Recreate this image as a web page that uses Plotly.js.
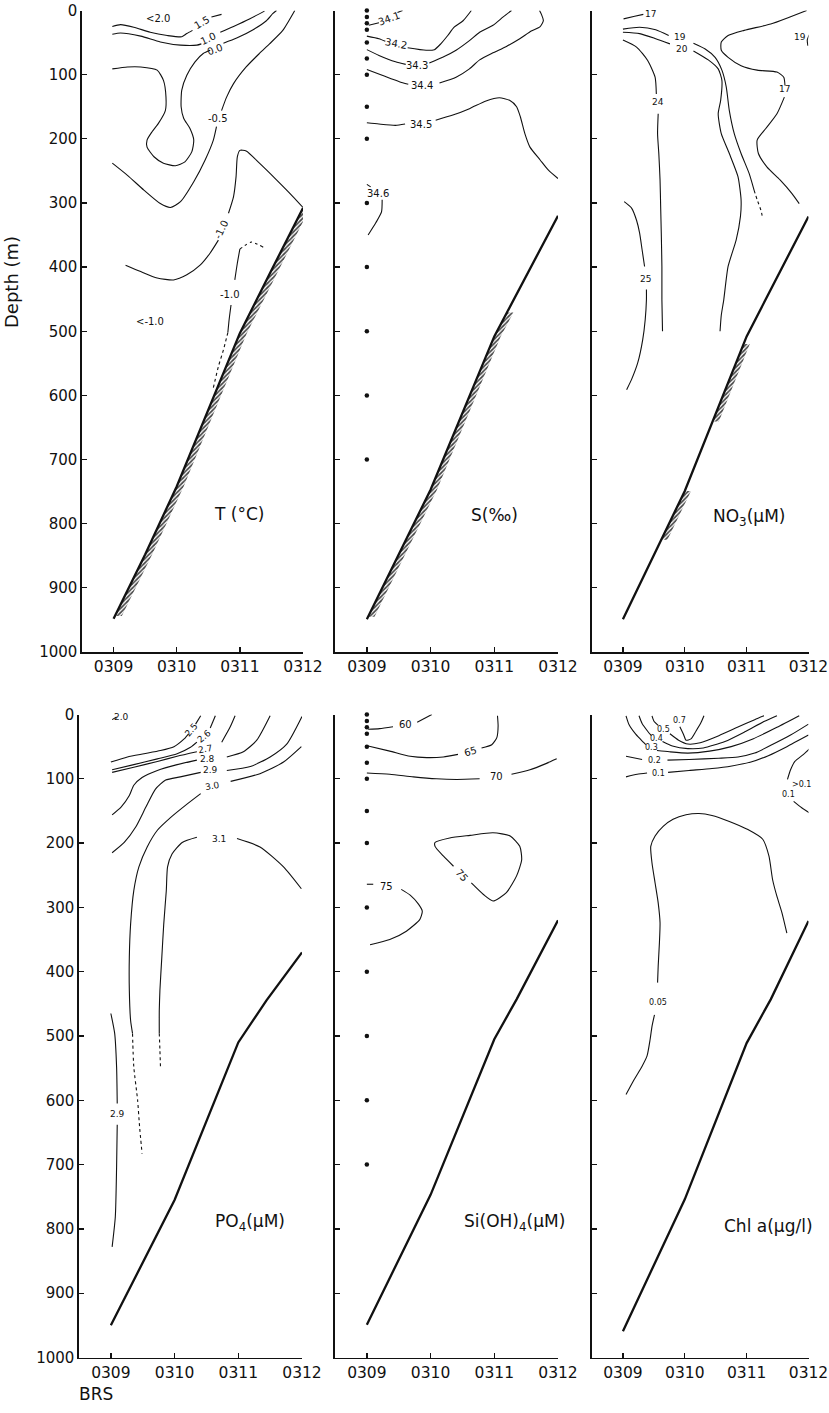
<!DOCTYPE html>
<html><head><meta charset="utf-8">
<script src="https://cdn.plot.ly/plotly-3.0.1.min.js"></script>
<style>html,body{margin:0;padding:0;background:#fff}#chart{width:829px;height:1413px}</style>
</head><body><div id="chart"></div>
<script>
// ---------- shared data ----------
const STATIONS = ['0309','0310','0311','0312'];
const STATION_POS = [0,1,2,3];
const DEPTH_TICKS = [0,100,200,300,400,500,600,700,800,900,1000];
const SAMPLE_DEPTHS = [0,10,20,30,50,75,100,150,200,300,400,500,600,700];

// ---------- T (°C) ----------
const T_FLOOR_X = [0,0.5,1,1.5,2,2.5,3];
const T_FLOOR_D = [948,848,742,622,503,405,308];
const T_15_X = [-0.02,0.11,0.32,0.58,0.85,1.08,1.16,1.25,null,1.55,1.71];
const T_15_D = [25,22,26,34,39,41,36,31,null,10,6];
const T_10_X = [-0.02,0.11,0.43,0.74,1.06,1.32,1.39,null,1.69,1.90,2.16,2.39];
const T_10_D = [37,35,40,49,54,54,52,null,34,25,13,1];
const T_00_X = [-0.02,0.22,0.43,0.69,0.79,0.83,0.82,0.71,0.61,0.53,0.53,0.64,0.79,0.98,1.13,1.24,1.27,1.21,1.11,1.07,1.08,1.16,1.29,1.42,1.53,null,1.74,1.95,2.21,2.42,2.52,2.58];
const T_00_D = [91,88,88,93,109,135,156,176,189,202,213,228,238,242,236,220,202,184,168,150,124,101,80,67,62,null,51,43,30,16,5,0];
const T_M05_X = [-0.02,0.22,0.48,0.74,0.90,1.06,1.27,1.45,1.58,1.63,null,1.71,1.79,1.90,2.10,2.31,2.47,2.68,2.87];
const T_M05_D = [238,257,280,301,307,298,267,233,202,181,null,156,135,114,88,67,52,31,0];
const T_M10_X = [0.19,0.43,0.69,0.95,1.16,1.37,1.53,1.66,null,1.82,1.90,1.94,1.96,2.00,2.10,2.31,2.58,2.84,3.00];
const T_M10_D = [397,407,417,420,412,397,378,358,null,316,290,259,228,218,219,238,264,290,307];
const T_M10B_X = [2.00,1.96,1.92,null,1.86,1.83,1.81];
const T_M10B_D = [372,394,420,null,459,482,502];
const T_M10B_DOT1_X = [2.37,2.18,2.00];
const T_M10B_DOT1_D = [369,361,372];
const T_M10B_DOT2_X = [1.81,1.74,1.66,1.58];
const T_M10B_DOT2_D = [502,529,555,588];
const T_LAB_TEXT = ['<2.0','1.5','1.0','0.0','-0.5','-1.0','-1.0','<-1.0'];
const T_LAB_X = [0.71,1.40,1.50,1.61,1.66,1.71,1.84,0.58];
const T_LAB_D = [13,19,43,61,168,342,442,485];
const T_LAB_ANG = [0,-30,-25,-20,0,-65,0,0];

// ---------- S (‰) ----------
const S_FLOOR_X = [0,1,2,2.5,3];
const S_FLOOR_D = [949,747,508,415,320];
const S_341_X = [0.03,0.19,null,0.48,0.56];
const S_341_D = [23,19,null,3,0];
const S_342_X = [0,0.19,0.29,null,0.64,0.93,1.06,1.16,1.27,1.37,1.51,1.64];
const S_342_D = [40,44,48,null,58,62,61,52,39,26,16,0];
const S_343_X = [0,0.19,0.45,0.61,null,0.98,1.19,1.40,1.61,1.77,1.98,2.14,2.27];
const S_343_D = [61,70,80,84,null,82,73,62,47,34,23,10,0];
const S_344_X = [0,0.24,0.51,0.65,null,1.14,1.40,1.61,1.77,1.98,2.19,2.40,2.58,2.72,2.77,2.74,2.71];
const S_344_D = [92,101,111,115,null,113,104,91,77,66,56,44,32,25,16,6,0];
const S_345_X = [0,0.19,0.45,0.60,null,1.08,1.35,1.61,1.87,2.08,2.24,2.35,2.41,2.48,2.56,2.72,2.85,3.0];
const S_345_D = [175,177,179,177,null,171,163,153,141,136,140,150,166,192,213,233,249,262];
const S_346_X = [0,0.06,null,0.24,0.23,0.14,0.02];
const S_346_D = [271,275,null,295,314,331,350];
const S_LAB_TEXT = ['34.1','34.2','34.3','34.4','34.5','34.6'];
const S_LAB_X = [0.35,0.45,0.79,0.87,0.85,0.17];
const S_LAB_D = [13,52,86,117,177,286];
const S_LAB_ANG = [-20,10,0,0,0,0];

// ---------- NO3 (µM) ----------
const N_FLOOR_X = [0,1,2,2.5,3];
const N_FLOOR_D = [949,749,508,415,321];
const N_17A_X = [0.01,0.19,0.33];
const N_17A_D = [13,9,6];
const N_19_X = [0,0.27,0.53,0.74,null,1.14,1.33,1.49,1.60,1.67,1.72,1.80,1.91,2.04,2.12];
const N_19_D = [29,26,30,39,null,51,60,73,93,119,156,192,223,254,280];
const N_19_DOT_X = [2.12,2.17,2.23,2.26];
const N_19_DOT_D = [280,295,311,324];
const N_20_X = [0,0.27,0.53,0.76,null,1.14,1.38,1.54,1.60,1.58,1.54,1.59,1.72,1.86,1.91,1.90,1.83,1.70,1.63,1.59,1.57];
const N_20_D = [34,36,44,52,null,63,77,91,109,140,161,192,223,259,295,321,358,399,451,475,500];
const N_24_X = [0,0.22,0.40,0.52,0.54,null,0.57,0.56,0.58,0.60,0.61,0.62,0.63,0.63,0.64];
const N_24_D = [46,57,78,104,130,null,161,192,223,264,306,347,399,451,500];
const N_25_X = [0.02,0.14,0.22,0.27,0.31,0.35,null,0.38,0.38,0.36,0.32,0.24,0.14,0.06];
const N_25_D = [298,308,327,347,373,399,null,435,451,482,513,549,575,591];
const N_17B_X = [2.97,2.70,2.39,1.96,1.70,1.59,1.59,1.70,1.91,2.17,2.49,2.60,2.62,null,2.61,2.49,2.31,2.17,2.19,2.33,2.54,2.73,2.85];
const N_17B_D = [0,10,21,31,39,49,62,73,86,93,96,104,117,null,135,161,184,202,223,244,264,285,301];
const N_19C_X = [3.01,2.98,2.99];
const N_19C_D = [38,46,55];
const N_LAB_TEXT = ['17','19','20','24','25','17','19'];
const N_LAB_X = [0.44,0.93,0.95,0.57,0.36,2.62,2.86];
const N_LAB_D = [5,41,60,143,419,123,42];

// ---------- PO4 (µM) ----------
const P_FLOOR_X = [0,1,2,2.44,3];
const P_FLOOR_D = [950,755,510,445,370];
const P_20_X = [0.02,0.09];
const P_20_D = [8,4];
const P_25_X = [0,0.26,0.52,0.78,0.99,1.15,1.22,null,1.33,1.41];
const P_25_D = [74,66,61,56,50,38,30,null,15,2];
const P_26_X = [0.02,0.36,0.73,1.04,1.25,1.35,null,1.56,1.64];
const P_26_D = [86,78,69,61,51,43,null,21,2];
const P_27_X = [0.02,0.36,0.73,1.04,1.35,null,1.74,1.87,1.95];
const P_27_D = [90,82,73,65,58,null,43,20,2];
const P_28_X = [0.02,0.16,0.29,0.36,0.49,0.73,1.04,1.35,null,1.82,2.08,2.29,2.50];
const P_28_D = [156,144,126,110,98,87,78,71,null,66,58,40,2];
const P_29_X = [0.02,0.21,0.39,0.55,0.70,0.86,1.09,1.41,null,1.82,2.19,2.50,2.76,3.0];
const P_29_D = [215,199,175,144,116,102,97,90,null,87,81,66,46,3];
const P_30_X = [0.34,0.31,0.29,0.29,0.31,0.36,0.44,0.57,0.73,0.94,1.20,1.41,null,1.88,2.34,2.71,2.99];
const P_30_D = [496,476,429,377,326,274,237,206,180,160,139,123,null,104,92,74,50];
const P_30_DOT_X = [0.34,0.36,0.42,0.45,0.49];
const P_30_DOT_D = [496,548,600,640,683];
const P_31_X = [0.76,0.76,0.77,0.80,0.83,0.87,0.89,0.96,1.12,1.35,null,1.98,2.34,2.71,2.99];
const P_31_D = [496,460,429,377,326,274,237,217,199,191,null,193,206,237,271];
const P_31_DOT_X = [0.76,0.77,0.78];
const P_31_DOT_D = [496,522,552];
const P_29B_X = [0,0.06,0.09,0.10,null,0.10,0.09,0.07,0.02];
const P_29B_D = [465,496,548,605,null,638,704,781,828];
const P_LAB_TEXT = ['2.0','2.5','2.6','2.7','2.8','2.9','3.0','3.1','2.9'];
const P_LAB_X = [0.17,1.26,1.47,1.48,1.51,1.56,1.59,1.69,0.10];
const P_LAB_D = [4,24,34,53,69,87,111,193,621];
const P_LAB_ANG = [0,-50,-40,-10,0,0,-10,0,0];

// ---------- Si(OH)4 (µM) ----------
const SI_FLOOR_X = [0,1,2,2.35,3];
const SI_FLOOR_D = [949,747,505,443,320];
const SI_60_X = [0.02,0.20,0.41,null,0.79,1.02];
const SI_60_D = [23,22,19,null,12,0];
const SI_65_X = [0.02,0.36,0.68,0.94,1.20,1.43,null,1.80,1.96,2.04,2.06,2.05];
const SI_65_D = [49,57,65,67,66,62,null,52,47,36,18,2];
const SI_70_X = [0,0.36,0.73,1.09,1.41,1.77,null,2.27,2.56,2.82,2.98];
const SI_70_D = [91,93,97,100,101,100,null,93,86,76,69];
const SI_75A_X = [1.64,1.83,1.98,2.19,2.35,2.43,2.40,2.25,1.98,1.62,1.30,1.07,1.07,1.20,1.36];
const SI_75A_D = [262,280,290,277,251,226,205,189,184,188,192,199,205,220,236];
const SI_75B_X = [0,0.10,null,0.54,0.68,0.81,0.87,0.83,0.62,0.36,0.05];
const SI_75B_D = [264,264,null,272,281,295,306,319,337,350,358];
const SI_LAB_TEXT = ['60','65','70','75','75'];
const SI_LAB_X = [0.61,1.62,2.04,1.49,0.31];
const SI_LAB_D = [16,57,97,251,268];
const SI_LAB_ANG = [0,-15,0,50,0];

// ---------- Chl a (µg/l) ----------
const C_FLOOR_X = [0,1,2,2.39,3];
const C_FLOOR_D = [959,754,511,443,321];
const C_07_X = [0.92,0.98,1.02,1.10,1.18,1.26,1.31];
const C_07_D = [19,31,40,38,26,13,2];
const C_05_X = [0.47,0.50,0.57,null,0.76,0.90,1.05,1.25,1.55,1.85,2.13,2.28];
const C_05_D = [2,10,17,null,30,40,46,44,33,20,8,2];
const C_04_X = [0.26,0.31,0.40,0.46,null,0.64,0.80,1.05,1.30,1.65,1.97,2.28,2.49];
const C_04_D = [2,14,26,33,null,42,49,53,52,42,27,11,2];
const C_03_X = [0.05,0.10,0.21,0.33,0.37,null,0.55,0.75,1.05,1.40,1.75,2.10,2.49,2.85];
const C_03_D = [2,16,31,43,47,null,56,58,60,57,50,38,20,2];
const C_02_X = [0.05,0.31,null,0.72,1.07,1.55,1.86,2.13,2.39,2.71,3.0];
const C_02_D = [65,70,null,71,70,68,66,60,48,32,15];
const C_01_X = [0.05,0.23,0.39,null,0.73,1.07,1.44,1.76,2.07,2.35,2.65,3.0];
const C_01_D = [97,93,91,null,90,87,84,80,74,64,50,32];
const C_01B_X = [3.03,2.92,2.78,2.71,2.66,null,2.76,2.89,3.03];
const C_01B_D = [52,62,73,86,101,null,135,145,154];
const C_005_X = [2.65,2.57,2.49,2.42,2.36,2.26,2.02,1.71,1.44,1.23,1.02,0.81,0.65,0.52,0.45,0.47,0.52,0.57,0.60,0.59,0.57,0.56,null,0.51,0.47,0.44,0.39,0.31,0.18,0.05];
const C_005_D = [340,308,283,257,220,194,179,166,157,154,156,163,174,189,205,231,262,293,324,355,391,417,null,467,485,505,531,547,568,591];
const C_LAB_TEXT = ['0.7','0.5','0.4','0.3','0.2','0.1','>0.1','0.1','0.05'];
const C_LAB_X = [0.92,0.66,0.55,0.46,0.51,0.57,2.88,2.68,0.57];
const C_LAB_D = [10,23,37,51,72,91,109,124,448];

// ---------- build ----------
const INK = '#111';
const traces = [];
const annotations = [];
function ln(ax, x, y, opts) {
  opts = opts || {};
  traces.push({type:'scatter', mode:'lines', x:x, y:y, xaxis:'x'+ax, yaxis:'y'+ax,
    line:{color:INK, width:opts.w || 1.1, dash:opts.dash || 'solid', shape:'spline', smoothing:0.6},
    connectgaps:false, hoverinfo:'skip', showlegend:false});
}
function interp(xs, ds, s) {
  for (let i = 0; i < xs.length - 1; i++) {
    if (s >= xs[i] && s <= xs[i+1]) {
      const t = (s - xs[i]) / (xs[i+1] - xs[i]);
      return ds[i] + t * (ds[i+1] - ds[i]);
    }
  }
  return s < xs[0] ? ds[0] : ds[ds.length-1];
}
function hatch(ax, fx, fd, a, b, off) {
  const xs = [a], ds = [interp(fx, fd, a)];
  fx.forEach((v, i) => { if (v > a && v < b) { xs.push(v); ds.push(fd[i]); } });
  xs.push(b); ds.push(interp(fx, fd, b));
  const px = xs.concat(xs.slice().reverse().map(v => v + off));
  const pd = ds.concat(ds.slice().reverse());
  px.push(px[0]); pd.push(pd[0]);
  traces.push({type:'scatter', mode:'lines', x:px, y:pd, xaxis:'x'+ax, yaxis:'y'+ax,
    fill:'toself', fillcolor:'rgba(255,255,255,0)',
    fillpattern:{shape:'/', size:3, solidity:0.55, fgcolor:'#444', bgcolor:'rgba(255,255,255,0)'},
    line:{width:0, color:'rgba(0,0,0,0)'}, hoverinfo:'skip', showlegend:false});
}
function floor(ax, fx, fd) {
  traces.push({type:'scatter', mode:'lines', x:fx, y:fd, xaxis:'x'+ax, yaxis:'y'+ax,
    line:{color:INK, width:2.3}, hoverinfo:'skip', showlegend:false});
}
function labels(ax, texts, xs, ds, angs, size) {
  texts.forEach((t, i) => annotations.push({xref:'x'+ax, yref:'y'+ax, x:xs[i], y:ds[i], text:t,
    showarrow:false, xanchor:'center', yanchor:'middle', borderpad:0, textangle: angs ? angs[i] : 0,
    font:{family:'DejaVu Sans', size:size || 10, color:INK}}));
}
function dots(ax) {
  traces.push({type:'scatter', mode:'markers', x:SAMPLE_DEPTHS.map(() => STATION_POS[0]), y:SAMPLE_DEPTHS,
    xaxis:'x'+ax, yaxis:'y'+ax, marker:{color:INK, size:4.5}, hoverinfo:'skip', showlegend:false, cliponaxis:false});
}
function panelTitle(ax, text, s, d) {
  annotations.push({xref:'x'+ax, yref:'y'+ax, x:s, y:d, text:text, showarrow:false,
    xanchor:'center', yanchor:'middle', font:{family:'DejaVu Sans', size:17, color:INK}});
}

// Panel 1: T
hatch('', T_FLOOR_X, T_FLOOR_D, 0.02, 3.0, 0.11);
floor('', T_FLOOR_X, T_FLOOR_D);
ln('', T_15_X, T_15_D); ln('', T_10_X, T_10_D); ln('', T_00_X, T_00_D);
ln('', T_M05_X, T_M05_D); ln('', T_M10_X, T_M10_D); ln('', T_M10B_X, T_M10B_D);
ln('', T_M10B_DOT1_X, T_M10B_DOT1_D, {dash:'dot'}); ln('', T_M10B_DOT2_X, T_M10B_DOT2_D, {dash:'dot'});
labels('', T_LAB_TEXT, T_LAB_X, T_LAB_D, T_LAB_ANG);
panelTitle('', 'T (°C)', 1.98, 785);

// Panel 2: S
hatch('2', S_FLOOR_X, S_FLOOR_D, 0.02, 2.2, 0.1);
floor('2', S_FLOOR_X, S_FLOOR_D);
[[S_341_X,S_341_D],[S_342_X,S_342_D],[S_343_X,S_343_D],[S_344_X,S_344_D],[S_345_X,S_345_D],[S_346_X,S_346_D]]
  .forEach(p => ln('2', p[0], p[1]));
dots('2');
labels('2', S_LAB_TEXT, S_LAB_X, S_LAB_D, S_LAB_ANG);
panelTitle('2', 'S(‰)', 2.0, 787);

// Panel 3: NO3
hatch('3', N_FLOOR_X, N_FLOOR_D, 0.62, 1.0, 0.1);
hatch('3', N_FLOOR_X, N_FLOOR_D, 1.45, 1.95, 0.1);
floor('3', N_FLOOR_X, N_FLOOR_D);
[[N_17A_X,N_17A_D],[N_19_X,N_19_D],[N_20_X,N_20_D],[N_24_X,N_24_D],[N_25_X,N_25_D],[N_17B_X,N_17B_D],[N_19C_X,N_19C_D]]
  .forEach(p => ln('3', p[0], p[1]));
ln('3', N_19_DOT_X, N_19_DOT_D, {dash:'dot'});
labels('3', N_LAB_TEXT, N_LAB_X, N_LAB_D, null, 9);
panelTitle('3', 'NO<sub>3</sub>(µM)', 2.04, 790);

// Panel 4: PO4
floor('4', P_FLOOR_X, P_FLOOR_D);
[[P_20_X,P_20_D],[P_25_X,P_25_D],[P_26_X,P_26_D],[P_27_X,P_27_D],[P_28_X,P_28_D],[P_29_X,P_29_D],[P_30_X,P_30_D],[P_31_X,P_31_D],[P_29B_X,P_29B_D]]
  .forEach(p => ln('4', p[0], p[1]));
ln('4', P_30_DOT_X, P_30_DOT_D, {dash:'dot'}); ln('4', P_31_DOT_X, P_31_DOT_D, {dash:'dot'});
labels('4', P_LAB_TEXT, P_LAB_X, P_LAB_D, P_LAB_ANG, 9);
panelTitle('4', 'PO<sub>4</sub>(µM)', 2.19, 790);

// Panel 5: Si
floor('5', SI_FLOOR_X, SI_FLOOR_D);
[[SI_60_X,SI_60_D],[SI_65_X,SI_65_D],[SI_70_X,SI_70_D],[SI_75A_X,SI_75A_D],[SI_75B_X,SI_75B_D]]
  .forEach(p => ln('5', p[0], p[1]));
dots('5');
labels('5', SI_LAB_TEXT, SI_LAB_X, SI_LAB_D, SI_LAB_ANG);
panelTitle('5', 'Si(OH)<sub>4</sub>(µM)', 2.31, 790);

// Panel 6: Chl a
floor('6', C_FLOOR_X, C_FLOOR_D);
[[C_07_X,C_07_D],[C_05_X,C_05_D],[C_04_X,C_04_D],[C_03_X,C_03_D],[C_02_X,C_02_D],[C_01_X,C_01_D],[C_01B_X,C_01B_D],[C_005_X,C_005_D]]
  .forEach(p => ln('6', p[0], p[1]));
labels('6', C_LAB_TEXT, C_LAB_X, C_LAB_D, null, 8);
panelTitle('6', 'Chl a(µg/l)', 2.35, 795);

// Axis titles
annotations.push({xref:'paper', yref:'paper', x:12/829, y:1-282/1413, text:'Depth (m)', textangle:-90,
  xanchor:'center', yanchor:'middle', showarrow:false, font:{family:'DejaVu Sans', size:18, color:INK}});
annotations.push({xref:'paper', yref:'paper', x:96/829, y:1-1394/1413, text:'BRS',
  xanchor:'center', yanchor:'middle', showarrow:false, font:{family:'DejaVu Sans', size:17, color:INK}});

const W = 829, H = 1413;
function xax(l, r, anchor) {
  return {domain:[l/W, r/W], range:[-0.5, 3.0], anchor:anchor, tickvals:STATION_POS, ticktext:STATIONS,
    ticks:'inside', ticklen:5, tickwidth:1.3, tickcolor:INK, showline:true, linecolor:INK, linewidth:1.6,
    showgrid:false, zeroline:false, ticklabeloverflow:'allow',
    tickfont:{family:'DejaVu Sans', size:15.5, color:INK}, fixedrange:true};
}
function yax(top, bot, anchor, showLabels) {
  return {domain:[1-bot/H, 1-top/H], range:[1000, 0], anchor:anchor, tickvals:DEPTH_TICKS,
    ticks:'inside', ticklen:5, tickwidth:1.3, tickcolor:INK, showline:true, linecolor:INK, linewidth:1.6,
    showgrid:false, zeroline:false, showticklabels:showLabels, ticklabeloverflow:'allow',
    tickfont:{family:'DejaVu Sans', size:15, color:INK}, fixedrange:true};
}
const layout = {
  width:W, height:H, margin:{l:0, r:0, t:0, b:0}, paper_bgcolor:'#fff', plot_bgcolor:'rgba(0,0,0,0)',
  showlegend:false,
  xaxis: xax(82, 303, 'y'),   yaxis: yax(10.5, 652, 'x', true),
  xaxis2: xax(335, 558, 'y2'), yaxis2: yax(10.5, 652, 'x2', false),
  xaxis3: xax(592, 808.5, 'y3'), yaxis3: yax(10.5, 652, 'x3', false),
  xaxis4: xax(79, 302, 'y4'),  yaxis4: yax(714.5, 1357.5, 'x4', true),
  xaxis5: xax(335, 558, 'y5'), yaxis5: yax(714.5, 1357.5, 'x5', false),
  xaxis6: xax(592, 808.5, 'y6'), yaxis6: yax(714.5, 1357.5, 'x6', false),
  annotations: annotations
};
Plotly.newPlot('chart', traces, layout, {staticPlot:true, displayModeBar:false});
</script></body></html>
